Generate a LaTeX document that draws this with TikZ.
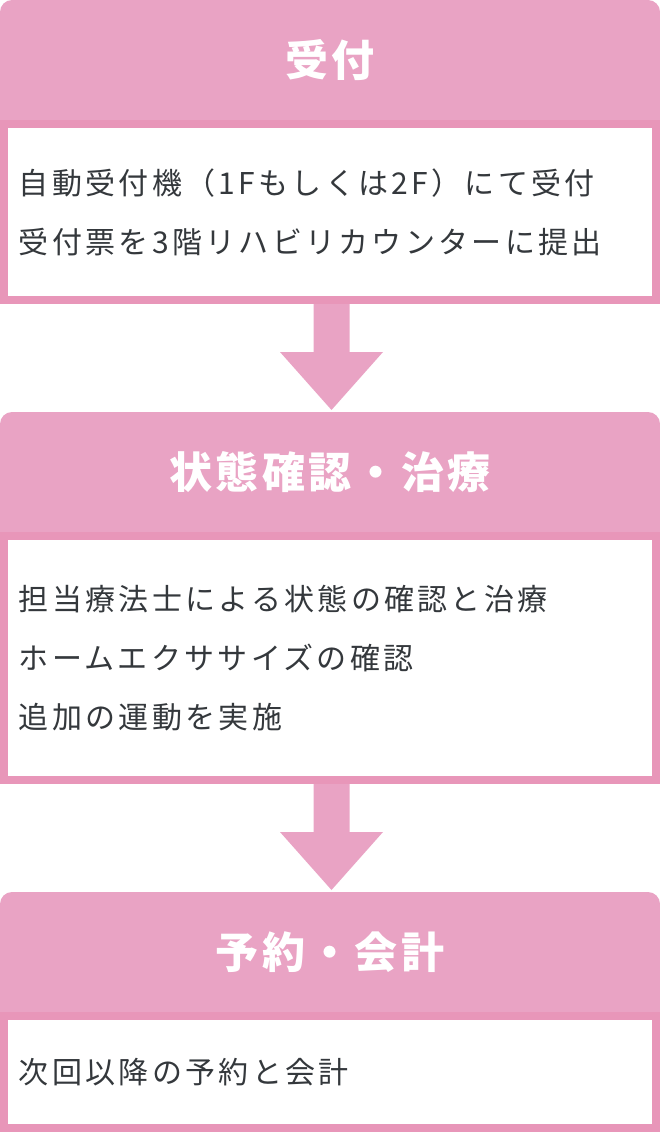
\documentclass[tikz,border=0pt]{standalone}
\usepackage{fontspec}
\setmainfont{Noto Sans CJK JP}
\newfontfamily\headfont[LetterSpace=8]{Noto Sans CJK JP}
\newfontfamily\bodyfont[LetterSpace=11]{Noto Sans CJK JP}
\usetikzlibrary{positioning, calc, backgrounds}
\definecolor{headpink}{RGB}{233,163,196}
\definecolor{bandpink}{RGB}{232,150,185}
\definecolor{inkgray}{RGB}{52,56,60}

\begin{document}
\begin{tikzpicture}[
    x=1pt, y=-1pt,
    headbox/.style={
        fill=headpink, rounded corners=12pt, outer sep=0pt, inner sep=0pt,
        minimum width=660pt, minimum height=120pt,
        text=white, font=\headfont\bfseries\fontsize{43}{48}\selectfont,
    },
    bodybox/.style={
        draw=bandpink, line width=8pt, fill=white,
        minimum width=652pt, text width=622pt, inner xsep=15pt, inner ysep=0pt,
        align=left, text=inkgray, font=\bodyfont\fontsize{30}{59}\selectfont,
    },
    flow/.style={fill=headpink},
]
\useasboundingbox (0,0) rectangle (660,1132);

% --- Step 1: reception ---------------------------------------
\node[headbox, anchor=north] (head1) at (330,0) {受付};
\node[bodybox, below=0pt of head1, minimum height=176pt] (body1)
    {自動受付機（1Fもしくは2F）にて受付 \\ 受付票を3階リハビリカウンターに提出};

% --- Step 2: check and treatment -----------------------------
\node[headbox, below=108pt of body1] (head2) {状態確認・治療};
\node[bodybox, below=0pt of head2, minimum height=244pt] (body2)
    {担当療法士による状態の確認と治療 \\ ホームエクササイズの確認 \\ 追加の運動を実施};

% --- Step 3: booking and payment -----------------------------
\node[headbox, below=108pt of body2] (head3) {予約・会計};
\node[bodybox, below=0pt of head3, minimum height=112pt] (body3)
    {次回以降の予約と会計};

% --- Square off the lower corners of the headers -------------
\begin{scope}[on background layer]
\foreach \h in {head1, head2, head3}
    \fill[headpink] (\h.west) rectangle (\h.south east);
\end{scope}

% --- Block arrows between steps ------------------------------
\foreach \a/\b in {body1/head2, body2/head3}
    \fill[flow] ($(\a.south)+(-16.5,0)$) -- ($(\a.south)+(-16.5,48)$)
        -- ($(\a.south)+(-50,48)$) -- ($(\b.north)+(1.5,-2)$)
        -- ($(\a.south)+(53,48)$) -- ($(\a.south)+(19.5,48)$)
        -- ($(\a.south)+(19.5,0)$) -- cycle;

\end{tikzpicture}
\end{document}
